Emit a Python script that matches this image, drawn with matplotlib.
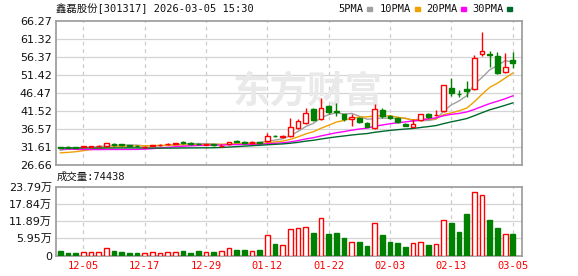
import numpy as np
import pandas as pd
import matplotlib
matplotlib.use("Agg")
import matplotlib.pyplot as plt
from matplotlib.patches import Rectangle

plt.rcParams['font.family'] = ['DejaVu Sans', 'Noto Sans CJK SC']

# trading days shown (12-02 .. 03-05)
dates = ['12-02', '12-03', '12-04', '12-05', '12-08', '12-09', '12-10', '12-11', '12-12', '12-15',
         '12-16', '12-17', '12-18', '12-19', '12-22', '12-23', '12-24', '12-25', '12-26', '12-29',
         '12-30', '12-31', '01-05', '01-06', '01-07', '01-08', '01-09', '01-12', '01-13', '01-14',
         '01-15', '01-16', '01-19', '01-20', '01-21', '01-22', '01-23', '01-26', '01-27', '01-28',
         '01-29', '01-30', '02-02', '02-03', '02-04', '02-05', '02-06', '02-09', '02-10', '02-11',
         '02-12', '02-13', '02-24', '02-25', '02-26', '02-27', '03-02', '03-03', '03-04', '03-05']

open_ = [31.6, 31.6, 31.5, 31.6, 31.7, 31.8, 32.0, 32.3, 32.3, 32.1,
         32.0, 31.5, 31.9, 32.1, 32.3, 32.4, 33.0, 32.7, 32.5, 32.2,
         32.3, 31.9, 32.3, 33.3, 33.0, 32.7, 32.9, 33.3, 34.6, 34.4,
         34.5, 36.8, 38.1, 42.1, 39.2, 42.9, 41.4, 40.6, 39.3, 39.7,
         38.3, 36.9, 41.8, 40.2, 39.7, 38.0, 37.2, 39.1, 40.8, 40.3,
         41.5, 47.9, 46.3, 47.6, 47.6, 57.1, 57.1, 56.6, 52.2, 55.5]
high = [31.7, 31.8, 31.6, 32.0, 32.0, 32.1, 32.8, 32.6, 32.5, 32.2,
        32.1, 31.8, 32.2, 32.3, 32.8, 32.7, 33.2, 32.9, 32.6, 32.4,
        32.4, 32.3, 33.0, 33.5, 33.2, 33.3, 33.0, 35.4, 34.9, 34.8,
        39.6, 39.3, 42.4, 42.4, 45.1, 43.3, 43.6, 40.7, 40.6, 40.0,
        38.5, 43.4, 42.4, 40.5, 39.9, 38.2, 39.2, 40.8, 41.0, 41.8,
        48.8, 50.7, 47.3, 49.8, 56.9, 63.2, 57.9, 57.7, 57.6, 57.7]
low = [31.2, 31.3, 31.2, 31.5, 31.6, 31.7, 31.9, 32.0, 31.9, 31.8,
       31.6, 31.2, 31.8, 32.0, 32.2, 32.3, 32.5, 32.2, 32.2, 32.1,
       32.0, 31.7, 32.1, 32.9, 32.5, 32.3, 32.5, 33.1, 34.3, 34.2,
       34.3, 36.6, 38.0, 38.8, 39.0, 40.7, 40.2, 38.8, 37.5, 38.2,
       37.0, 36.6, 39.6, 39.4, 38.3, 37.3, 37.1, 38.9, 39.5, 40.2,
       41.3, 45.7, 45.4, 45.4, 47.4, 56.7, 53.7, 51.6, 52.0, 53.4]
close = [31.4, 31.4, 31.3, 31.9, 31.9, 32.0, 32.6, 32.1, 32.1, 32.0,
         31.8, 31.6, 32.1, 32.2, 32.5, 32.6, 32.8, 32.5, 32.4, 32.3,
         32.2, 32.0, 32.9, 33.1, 32.8, 32.9, 32.7, 34.6, 34.5, 34.6,
         37.1, 38.8, 41.1, 39.0, 42.4, 41.3, 41.3, 39.3, 39.9, 38.6,
         37.2, 42.0, 40.2, 39.7, 38.6, 37.5, 37.9, 40.6, 39.9, 40.4,
         48.7, 46.4, 46.1, 47.1, 56.2, 58.0, 56.8, 52.1, 53.6, 54.6]
# volume in 万 (10k shares)
volume = [1.7, 0.9, 0.9, 1.2, 1.2, 1.2, 2.5, 1.6, 1.2, 0.9,
          0.9, 0.8, 1.1, 0.9, 1.1, 1.1, 1.7, 0.9, 1.6, 1.1,
          1.2, 1.6, 2.5, 1.9, 1.9, 1.5, 1.9, 7.0, 4.0, 3.5,
          9.1, 9.4, 9.8, 7.8, 12.9, 7.4, 7.8, 6.1, 4.6, 4.7,
          3.3, 11.1, 7.1, 4.7, 4.3, 2.9, 4.2, 4.6, 3.6, 3.9,
          12.2, 11.2, 8.2, 14.3, 22.1, 20.8, 12.2, 9.5, 7.3, 7.4438]
# closes before the window, needed for the moving averages at the left edge
prior_close = [32.4, 32.1, 31.8, 32.3, 32.0, 31.9, 32.2, 31.7, 31.8, 31.8,
               32.5, 32.8, 32.6, 32.3, 32.4, 32.0, 31.9, 32.1, 31.8, 31.6,
               30.1, 29.5, 29.0, 28.8, 29.1, 29.8, 30.3, 30.8, 31.2]

ma_periods = [5, 10, 20, 30]
ma_colors = ['#a0a0a0', '#f0a000', '#ff00ff', '#006a2e']
price_ticks = [26.66, 31.61, 36.57, 41.52, 46.47, 51.42, 56.37, 61.32, 66.27]
vol_ticks = [0, 5.95, 11.89, 17.84, 23.79]
vol_labels = ['0', '5.95万', '11.89万', '17.84万', '23.79万']

UP = '#ff0000'
DOWN = '#008000'
W, H = 578, 276

n = len(close)
x = np.arange(n)
o = np.array(open_)
c = np.array(close)
up = c >= o
all_close = pd.Series(prior_close + close)

fig = plt.figure(figsize=(W / 100, H / 100), dpi=100)
ax = fig.add_axes([56 / W, 1 - 165 / H, 466 / W, 144 / H])
axv = fig.add_axes([56 / W, 1 - 255.5 / H, 466 / W, 68.8 / H])

tick_idx = list(range(3, n, 8))

for a in (ax, axv):
    a.set_xlim(-0.56, 60.2)
    for s in a.spines.values():
        s.set_color('#a0a0a0')
        s.set_linewidth(1.3)
    for t in tick_idx:
        a.axvline(t, color='#cccccc', lw=0.9, ls=(0, (3, 3)), zorder=0)
    a.tick_params(length=0, pad=3, labelsize=8, colors='#111111')

# price panel
ax.set_ylim(26.66, 66.27)
ax.set_yticks(price_ticks)
ax.set_yticklabels(['%.2f' % v for v in price_ticks])
for v in price_ticks[1:-1]:
    ax.axhline(v, color='#d4d4d4', lw=0.9, zorder=0)
ax.set_xticks([])

# watermark
ax.text(0.54, 0.51, '东方财富', transform=ax.transAxes, ha='center', va='center',
        fontsize=27, fontweight='bold', color='#e9e9e9', family=['Noto Sans CJK SC'], zorder=0)

for p, col in zip(ma_periods, ma_colors):
    ma = all_close.rolling(p).mean().values[len(prior_close):]
    ax.plot(x, ma, color=col, lw=1.0, zorder=2)

ax.vlines(x, low, high, colors=np.where(up, UP, DOWN), lw=1.0, zorder=3)
body = np.maximum(np.abs(c - o), 0.08)
ax.bar(x, body, bottom=np.minimum(o, c), width=0.62,
       color=np.where(up, 'white', DOWN), edgecolor=np.where(up, UP, DOWN),
       linewidth=1.0, zorder=4)

# volume panel
axv.set_ylim(0, 23.79)
axv.set_yticks(vol_ticks)
axv.set_yticklabels(vol_labels)
for v in vol_ticks[1:-1]:
    axv.axhline(v, color='#d4d4d4', lw=0.9, zorder=0)
axv.bar(x, volume, width=0.62, color=np.where(up, 'white', DOWN),
        edgecolor=np.where(up, UP, DOWN), linewidth=1.0, zorder=3)
axv.set_xticks(tick_idx)
axv.set_xticklabels([dates[i] for i in tick_idx], color='#ff0000',
                    family=['DejaVu Sans Mono'], fontsize=7.5)
axv.tick_params(axis='x', pad=4)

mono_cjk = ['DejaVu Sans Mono', 'Noto Sans CJK SC']
fig.text(56 / W, 1 - 9 / H, '鑫磊股份[301317] 2026-03-05 15:30', ha='left', va='center',
         fontsize=7.5, family=mono_cjk, color='#111111')
fig.text(57 / W, 1 - 177 / H, '成交量:74438', ha='left', va='center',
         fontsize=7.5, family=mono_cjk, color='#111111')

# legend
leg_x = [338, 380, 426, 472]
for lx, p, col in zip(leg_x, ma_periods, ma_colors):
    label = '%dPMA' % p
    fig.text(lx / W, 1 - 9 / H, label, ha='left', va='center',
             fontsize=7.5, family=['DejaVu Sans Mono'], color='#111111')
    tw = len(label) * 0.602 * 7.5 * 100 / 72
    fig.patches.append(Rectangle(((lx + tw + 4) / W, 1 - 10.5 / H), 5 / W, 3.5 / H,
                                 transform=fig.transFigure, color=col))

fig.savefig('out.png', dpi=100)
